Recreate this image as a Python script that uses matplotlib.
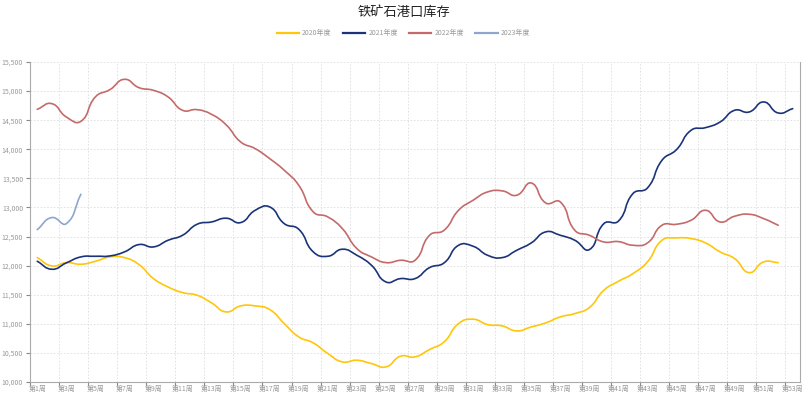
import numpy as np
import matplotlib
matplotlib.use("Agg")
import matplotlib.pyplot as plt
from matplotlib.path import Path
from matplotlib.patches import PathPatch
from matplotlib.lines import Line2D
from matplotlib.ticker import FixedLocator, FuncFormatter

plt.rcParams['font.family'] = ['Noto Sans CJK SC', 'DejaVu Sans']

title = "铁矿石港口库存"
weeks = list(range(1, 54))
week_labels = [f"第{w}周" for w in weeks]
series_names = ["2020年度", "2021年度", "2022年度", "2023年度"]
colors = ["#FFC60A", "#1B3479", "#C46A6A", "#8EA6CE"]

y2020 = [12138, 11995, 12052, 12024, 12075, 12150, 12138, 12018, 11777, 11634,
         11537, 11491, 11359, 11205, 11308, 11308, 11245, 11004, 10775, 10672,
         10489, 10346, 10374, 10317, 10260, 10443, 10432, 10558, 10689, 11004,
         11079, 10987, 10964, 10878, 10947, 11016, 11119, 11176, 11280, 11577,
         11730, 11863, 12064, 12436, 12476, 12465, 12390, 12236, 12121, 11880,
         12064, 12052]
y2021 = [12075, 11938, 12047, 12150, 12161, 12167, 12236, 12362, 12322, 12436,
         12522, 12711, 12751, 12815, 12740, 12951, 13009, 12722, 12625, 12236,
         12161, 12282, 12178, 12007, 11720, 11777, 11777, 11966, 12047, 12350,
         12333, 12178, 12138, 12264, 12390, 12580, 12522, 12436, 12276, 12722,
         12765, 13238, 13335, 13811, 13994, 14326, 14372, 14469, 14670, 14641,
         14813, 14624, 14698]
y2022 = [14687, 14784, 14555, 14480, 14900, 15025, 15202, 15059, 15013, 14900,
         14670, 14681, 14600, 14420, 14126, 14011, 13839, 13639, 13381, 12923,
         12837, 12636, 12293, 12150, 12052, 12092, 12092, 12522, 12608, 12952,
         13124, 13267, 13285, 13210, 13420, 13077, 13095, 12608, 12522, 12407,
         12413, 12350, 12390, 12694, 12711, 12780, 12951, 12751, 12849, 12883,
         12808, 12694]
y2023 = [12619, 12826, 12722, 13226]
all_series = [y2020, y2021, y2022, y2023]

yticks = list(range(10000, 15501, 500))


def smooth_path(xs, ys, sx, sy, smooth=0.5):
    # bezier through the points, echarts-like control points (distances in px)
    pts = np.column_stack([xs, ys]).astype(float)
    n = len(pts)
    before, after = [], []
    for i in range(n):
        cur = pts[i]
        prev = pts[i - 1] if i > 0 else cur
        nxt = pts[i + 1] if i < n - 1 else cur
        v = (nxt - prev) * smooth
        d0 = np.hypot((cur[0] - prev[0]) * sx, (cur[1] - prev[1]) * sy)
        d1 = np.hypot((cur[0] - nxt[0]) * sx, (cur[1] - nxt[1]) * sy)
        s = d0 + d1
        if s:
            d0, d1 = d0 / s, d1 / s
        before.append(cur - v * d0)
        after.append(cur + v * d1)
    verts, codes = [pts[0]], [Path.MOVETO]
    for i in range(n - 1):
        verts += [after[i], before[i + 1], pts[i + 1]]
        codes += [Path.CURVE4] * 3
    return Path(verts, codes)


fig = plt.figure(figsize=(8.07, 3.98), dpi=100)
ax = fig.add_axes([30 / 807, 16 / 398, 770 / 807, 320 / 398])
ax.set_xlim(0.5, 53.5)
ax.set_ylim(10000, 15500)

sx, sy = 14.5, 320 / 5500
for vals, col in zip(all_series, colors):
    p = smooth_path(weeks[:len(vals)], vals, sx, sy)
    ax.add_patch(PathPatch(p, fill=False, edgecolor=col, lw=1.2,
                           capstyle='round', joinstyle='round', zorder=3))

# category axis: ticks/grid on boundaries, labels centred
ax.xaxis.set_major_locator(FixedLocator([w - 0.5 for w in weeks[::2]]))
ax.xaxis.set_minor_locator(FixedLocator(weeks[::2]))
ax.xaxis.set_major_formatter(FuncFormatter(lambda v, p: ""))
ax.xaxis.set_minor_formatter(FuncFormatter(lambda v, p: week_labels[int(round(v)) - 1]))
ax.tick_params(axis='x', which='major', length=3, color='#888888')
ax.tick_params(axis='x', which='minor', length=0, labelsize=5, labelcolor='#999999', pad=2)

ax.set_yticks(yticks)
ax.set_yticklabels([f"{v:,}" for v in yticks])
ax.tick_params(axis='y', length=3, color='#888888', labelsize=5,
               labelcolor='#999999', pad=2)

ax.grid(True, which='major', color='#dddddd', ls=(0, (2, 2)), lw=0.6)
for side in ('left', 'bottom', 'right'):
    ax.spines[side].set_color('#aaaaaa')
    ax.spines[side].set_linewidth(0.8)
ax.spines['top'].set_visible(False)

fig.text(0.5, 1 - 12 / 398, title, ha='center', va='center', fontsize=9.5, color='#222222')
handles = [Line2D([], [], color=c, lw=1.6) for c in colors]
fig.legend(handles, series_names, loc='center', bbox_to_anchor=(0.5, 1 - 33 / 398),
           ncol=4, frameon=False, fontsize=5, handlelength=3.2, handletextpad=0.5,
           columnspacing=1.6, labelcolor='#999999')

fig.savefig("out.png", dpi=100)
